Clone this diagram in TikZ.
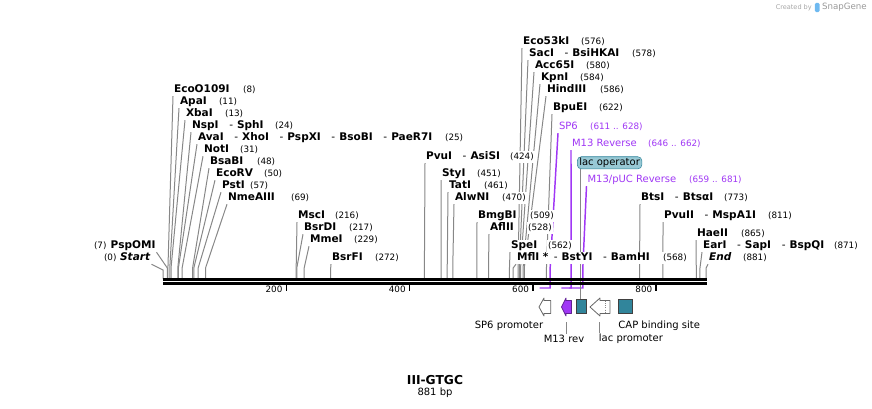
\documentclass[tikz,border=0pt]{standalone}
\usepackage{fontspec}
\setmainfont{DejaVu Sans}
\usetikzlibrary{backgrounds,calc,positioning}
\definecolor{featpurple}{RGB}{160,55,245}
\definecolor{featteal}{RGB}{49,133,155}
\definecolor{opfill}{RGB}{152,201,213}
\definecolor{leadgray}{RGB}{135,135,135}
\definecolor{logoblue}{RGB}{110,185,240}
\newcommand{\alsocuts}{\hspace{8pt}-\hspace{3pt}}
\newcommand{\bpx}[1]{163+0.6165*#1}
\tikzset{
  site label/.style={anchor=west,inner sep=0.6pt,fill=white,font=\fontsize{7.9}{9}\selectfont,text height=6pt,text depth=1.7pt},
  site num/.style={site label,font=\fontsize{6.6}{8}\selectfont},
  left label/.style={site label,anchor=east},
  feat label/.style={site label,text=featpurple,font=\fontsize{7.5}{9}\selectfont},
  feat num/.style={site num,text=featpurple},
  op label/.style={anchor=west,draw=featteal,fill=opfill,rounded corners=3pt,inner xsep=1.5pt,inner ysep=1pt,font=\fontsize{7.5}{9}\selectfont,text height=5.6pt,text depth=1.5pt},
  leader/.style={leadgray,line width=0.75pt},
  feat line/.style={featpurple,line width=1.1pt},
  backbone/.style={line width=2.25pt},
  ruler tick/.style={line width=1.1pt},
  ruler label/.style={anchor=east,inner sep=0.5pt,font=\fontsize{6.6}{8}\selectfont},
  arrow feat/.style={draw=black!60,fill=white,line width=0.6pt,line join=round},
  rev feat/.style={arrow feat,draw=featpurple!60!black,fill=featpurple},
  box feat/.style={draw=black!75,fill=featteal,line width=0.6pt,minimum height=10.5pt,inner sep=0pt},
  feat name/.style={inner sep=0.5pt,font=\fontsize{7.5}{9}\selectfont},
}

\begin{document}
\begin{tikzpicture}[x=0.75pt,y=-0.75pt]
  \useasboundingbox (0,0) rectangle (872,408);

  % restriction sites: name/bp/label x/label y/number x/text
  \foreach \id/\bp/\lx/\ly/\nx/\txt in {
    ecoo/8/173/90/242/{\textbf{EcoO109I}},
    apa/11/179/102/218/{\textbf{ApaI}},
    xba/13/185/114/224/{\textbf{XbaI}},
    nsp/24/191/126/274/{\textbf{NspI}\alsocuts\textbf{SphI}},
    ava/25/197/138/444/{\textbf{AvaI}\alsocuts\textbf{XhoI}\alsocuts\textbf{PspXI}\alsocuts\textbf{BsoBI}\alsocuts\textbf{PaeR7I}},
    not/31/203/150/239/{\textbf{NotI}},
    bsab/48/209/162/256/{\textbf{BsaBI}},
    ecorv/50/215/174/263/{\textbf{EcoRV}},
    pst/57/221/186/249/{\textbf{PstI}},
    nme/69/227/198/290/{\textbf{NmeAIII}},
    msc/216/297/216/334/{\textbf{MscI}},
    bsrd/217/303/228/348/{\textbf{BsrDI}},
    mme/229/309/240/353/{\textbf{MmeI}},
    bsrf/272/331/258/374/{\textbf{BsrFI}},
    eco53/576/522/42/580/{\textbf{Eco53kI}},
    sac/578/528/54/631/{\textbf{SacI}\alsocuts\textbf{BsiHKAI}},
    acc/580/534/66/585/{\textbf{Acc65I}},
    kpn/584/540/78/579/{\textbf{KpnI}},
    hind/586/546/90/599/{\textbf{HindIII}},
    bpue/622/552/108/598/{\textbf{BpuEI}},
    pvu/424/425/157/509/{\textbf{PvuI}\alsocuts\textbf{AsiSI}},
    sty/451/441/174/476/{\textbf{StyI}},
    tat/461/448/186/483/{\textbf{TatI}},
    alw/470/454/198/501/{\textbf{AlwNI}},
    bmgb/509/477/216/529/{\textbf{BmgBI}},
    afl/528/489/228/527/{\textbf{AflII}},
    spe/562/510/246/547/{\textbf{SpeI}},
    mfl/568/516/258/662/{\textbf{MflI *}\hspace{4pt}-\hspace{3pt}\textbf{BstYI}\alsocuts\textbf{BamHI}},
    bts/773/640/198/723/{\textbf{BtsI}\alsocuts\textbf{BtsαI}},
    pvuii/811/663/216/767/{\textbf{PvuII}\alsocuts\textbf{MspA1I}},
    hae/865/696/234/740/{\textbf{HaeII}},
    ear/871/702/246/833/{\textbf{EarI}\alsocuts\textbf{SapI}\alsocuts\textbf{BspQI}},
    end/881/708/258/742/{\textbf{\textit{End}}}%
  }{
    \node[site label] (\id) at (\lx,\ly) {\txt};
    \node[site num] (\id-num) at (\nx,\ly) {(\bp)};
    \coordinate (\id-cut) at ({\bpx{\bp}},279);
    \begin{scope}[on background layer]
      \draw[leader] (\id.south west) -- ($(\id-cut)+(0,-11)$) -- (\id-cut);
    \end{scope}
  }

  % sites labelled on the left
  \node[left label] (pspomi) at (156.5,246) {\textbf{PspOMI}};
  \node[site num] (pspomi-num) at (93,246) {(7)};
  \node[left label] (start) at (151.5,258) {\textbf{\textit{Start}}};
  \node[site num] (start-num) at (103,258) {(0)};
  \coordinate (pspomi-cut) at ({\bpx{7}},279);
  \coordinate (start-cut) at ({\bpx{0}},279);
  \begin{scope}[on background layer]
    \draw[leader] (pspomi.south east) -- ($(pspomi-cut)+(0,-11)$) -- (pspomi-cut);
    \draw[leader] (start.south east) -- ($(start-cut)+(0,-9)$) -- (start-cut);
  \end{scope}

  % primer binding sites
  \node[feat label] (sp6) at (558,127) {SP6};
  \node[feat num] (sp6-num) at (589,127) {(611 .. 628)};
  \node[feat label] (m13r) at (571,144) {M13 Reverse};
  \node[feat num] (m13r-num) at (647,144) {(646 .. 662)};
  \node[feat label] (m13puc) at (586.5,180) {M13/pUC Reverse};
  \node[feat num] (m13puc-num) at (688,180) {(659 .. 681)};
  \foreach \id/\from/\to in {sp6/611/628,m13r/646/662,m13puc/659/681}{
    \coordinate (\id-a) at ({\bpx{\from}},288);
    \coordinate (\id-b) at ({\bpx{\to}},288);
  }
  \begin{scope}[on background layer]
    \draw[feat line] (sp6.south west) -- ($(sp6-b)+(0,-20)$) -- (sp6-b) -- (sp6-a);
    \draw[feat line] (m13r.south west) -- (m13r-b) -- (m13r-a);
    \draw[feat line] (m13puc.south west) -- ($(m13puc-b)+(0,-20)$) -- (m13puc-b) -- (m13puc-a);
  \end{scope}

  % backbone and ruler
  \coordinate (seq-left) at (163,279);
  \coordinate (seq-right) at (707,279);
  \draw[backbone] (seq-left) -- (seq-right);
  \draw[backbone] ([yshift=-3pt]seq-left) -- ([yshift=-3pt]seq-right);
  \foreach \t in {200,400,600,800}{
    \coordinate (tick-\t) at ({\bpx{\t}},284.5);
    \draw[ruler tick] (tick-\t) -- ++(0,6.5);
    \node[ruler label] (tick-\t-lbl) at ({\bpx{\t}-3},289.5) {\t};
  }

  % features below the map
  \draw[arrow feat] (550.7,300.5) -- (544,300.5) -- (544,298) -- (539,307)
    -- (544,316) -- (544,313.5) -- (550.7,313.5) -- cycle;
  \draw[rev feat] (571.5,300.5) -- (566,300.5) -- (566,298) -- (561.5,307)
    -- (566,316) -- (566,313.5) -- (571.5,313.5) -- cycle;
  \draw[arrow feat] (610,300.5) -- (600,300.5) -- (600,298) -- (590,307)
    -- (600,316) -- (600,313.5) -- (610,313.5) -- cycle;
  \draw[leadgray,line width=0.6pt,densely dotted] (605,301) -- (605,313);
  \node[box feat,minimum width=8pt] (lacop-box) at (581.3,306.3) {};
  \node[box feat,minimum width=11pt] (cap-box) at (625.3,306.3) {};

  \node[op label] (lacop) at (577,162.8) {lac operator};
  \coordinate (lacop-x) at (580.5,0);
  \begin{scope}[on background layer]
    \draw[leader] (lacop.south -| lacop-x) -- (lacop-box.north -| lacop-x);
  \end{scope}

  \node[feat name] (sp6p-lbl) at (509,326) {SP6 promoter};
  \node[feat name] (m13rev-lbl) at (564,339) {M13 rev};
  \node[feat name,anchor=west] (lacp-lbl) at (598,339) {lac promoter};
  \node[feat name,anchor=west] (cap-lbl) at (617.5,326) {CAP binding site};
  \coordinate (m13rev-foot) at (566,322);
  \coordinate (lacp-foot) at (599.5,322);
  \draw[leader] (m13rev-foot) -- (m13rev-foot |- m13rev-lbl.north);
  \draw[leader] (lacp-foot) -- (lacp-foot |- lacp-lbl.north);

  % map name
  \node[font=\bfseries\fontsize{9.2}{11}\selectfont,inner sep=0.5pt] (mapname) at (435,380) {III-GTGC};
  \node[font=\fontsize{7.5}{9}\selectfont,inner sep=0.5pt] (maplen) at (435,393) {881 bp};

  % credit
  \node[font=\fontsize{4.9}{6}\selectfont,text=black!35,anchor=east,inner sep=0pt] (credit) at (812,7.5) {Created by};
  \node[fill=logoblue,rounded corners=1pt,minimum width=3.5pt,minimum height=7pt,inner sep=0pt,right=2pt of credit] (logo) {};
  \node[font=\fontsize{6.5}{8}\selectfont,text=black!40,inner sep=0pt,right=1.5pt of logo] (brand) {SnapGene};
\end{tikzpicture}
\end{document}
